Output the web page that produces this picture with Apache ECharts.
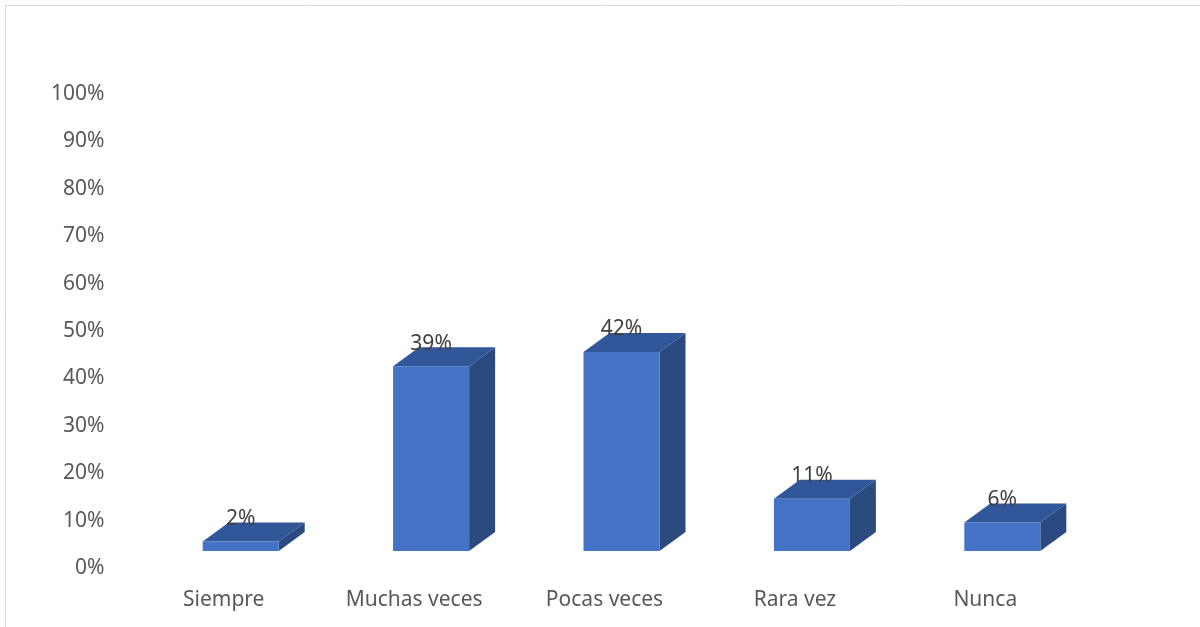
<!DOCTYPE html>
<html>
<head>
<meta charset="utf-8">
<script src="https://cdn.jsdelivr.net/npm/echarts@6/dist/echarts.min.js"></script>
<style>
  html, body { margin: 0; padding: 0; background: #fff; }
  #chart { width: 1200px; height: 627px; }
</style>
</head>
<body>
<div id="chart"></div>
<script>
// Survey answers and their share of responses (percent)
const categories = ['Siempre', 'Muchas veces', 'Pocas veces', 'Rara vez', 'Nunca'];
const values = [2, 39, 42, 11, 6];
const valueLabels = ['2%', '39%', '42%', '11%', '6%'];
const yTicks = [0, 10, 20, 30, 40, 50, 60, 70, 80, 90, 100];

const FONT = 'Noto Sans';
const TEXT = '#595959';
const FS = 21;
// pseudo-3D box geometry (pixels)
const SHIFT_X = 17;   // front face centre offset from the category centre
const LIFT = 17;      // front face floor raised above the axis zero
const HALF_W = 38;    // half width of the front face
const DEPTH_X = 26;   // receding depth, horizontal
const DEPTH_Y = 19;   // receding depth, vertical

const chart = echarts.init(document.getElementById('chart'), null, { renderer: 'canvas' });

function renderBox(params, api) {
  const i = api.value(0);
  const v = api.value(1);
  const base = api.coord([i, 0]);
  const top = api.coord([i, v]);
  const cx = base[0] + SHIFT_X;
  const x0 = cx - HALF_W, x1 = cx + HALF_W;
  const yb = base[1] - LIFT, yt = top[1] - LIFT;
  return {
    type: 'group',
    children: [
      { type: 'polygon', shape: { points: [[x1, yb], [x1 + DEPTH_X, yb - DEPTH_Y], [x1 + DEPTH_X, yt - DEPTH_Y], [x1, yt]] },
        style: { fill: '#2B4A80' } },
      { type: 'polygon', shape: { points: [[x0, yt], [x1, yt], [x1 + DEPTH_X, yt - DEPTH_Y], [x0 + DEPTH_X, yt - DEPTH_Y]] },
        style: { fill: '#31579A' } },
      { type: 'rect', shape: { x: x0, y: yt, width: x1 - x0, height: yb - yt },
        style: { fill: '#4472C4' } },
      { type: 'text', x: cx, y: yt - DEPTH_Y + 7,
        style: { text: valueLabels[params.dataIndex], font: FS + 'px "' + FONT + '"', fill: '#404040',
                 align: 'center', verticalAlign: 'bottom' } }
    ]
  };
}

chart.setOption({
  backgroundColor: '#fff',
  animation: false,
  graphic: [{
    type: 'rect', shape: { x: 5.5, y: 5.5, width: 1300, height: 700 },
    style: { fill: 'none', stroke: '#d9d9d9', lineWidth: 1 }, silent: true
  }],
  grid: { left: 128.5, right: 119.5, top: 94, bottom: 59, containLabel: false },
  xAxis: {
    type: 'category',
    data: categories,
    axisLine: { show: false },
    axisTick: { show: false },
    axisLabel: { color: TEXT, fontFamily: FONT, fontSize: FS, margin: 22 }
  },
  yAxis: {
    type: 'value',
    min: yTicks[0],
    max: yTicks[yTicks.length - 1],
    interval: 10,
    axisLine: { show: false },
    axisTick: { show: false },
    splitLine: { show: false },
    axisLabel: { color: TEXT, fontFamily: FONT, fontSize: FS, margin: 24, formatter: '{value}%' }
  },
  series: [{
    type: 'custom',
    renderItem: renderBox,
    data: values.map((v, i) => [i, v]),
    encode: { x: 0, y: 1 }
  }]
});
</script>
</body>
</html>
